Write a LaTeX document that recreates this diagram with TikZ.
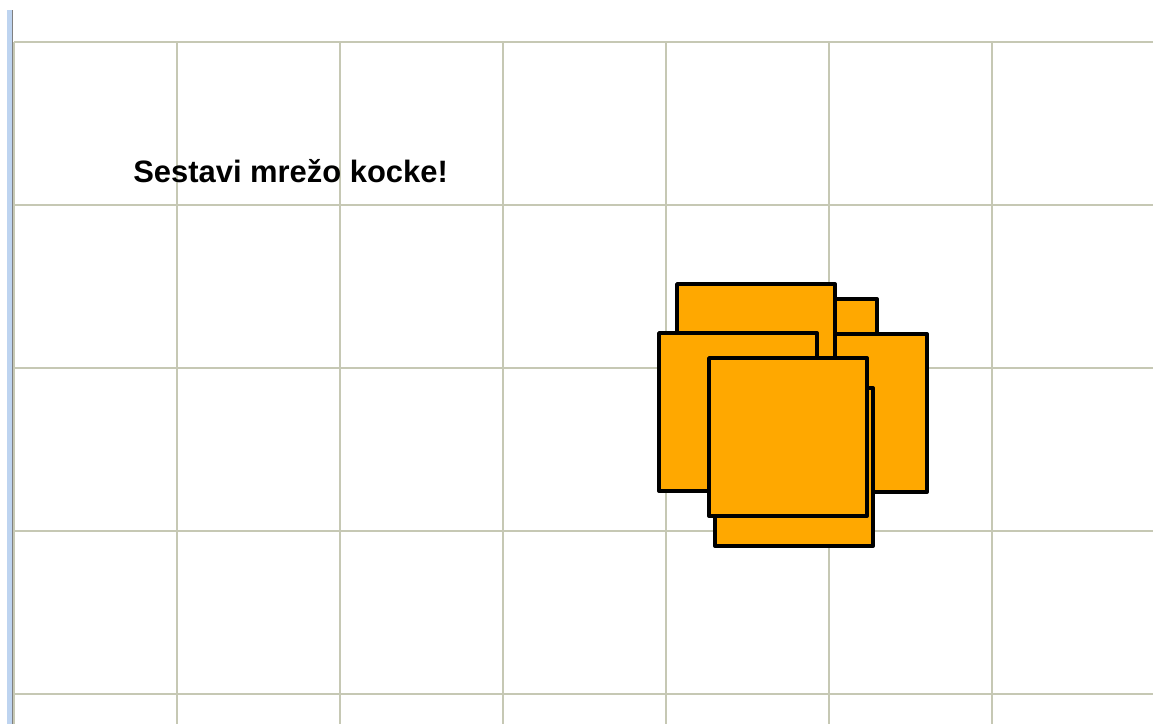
\documentclass[tikz,border=0pt]{standalone}
\usepackage{fontspec}
\setmainfont{Liberation Sans}
\definecolor{gridcol}{RGB}{198,200,180}
\definecolor{barcol}{RGB}{190,212,240}
\definecolor{facecol}{RGB}{255,168,0}

\begin{document}
\begin{tikzpicture}[x=0.02cm, y=-0.02cm]
  \pgfmathsetmacro{\G}{163}
  \pgfmathsetmacro{\A}{158}
  \useasboundingbox (0,0) rectangle (1153,724);
  \fill[white] (0,0) rectangle (1153,724);
  % grid
  \foreach \i in {0,...,7}
    \draw[gridcol, line width=1.1pt] (14+\i*\G,42) -- (14+\i*\G,724);
  \foreach \j in {0,...,4}
    \draw[gridcol, line width=1.1pt] (14,42+\j*\G) -- (1153,42+\j*\G);
  % window edge
  \fill[barcol] (7,10) rectangle (12,724);
  \draw[gray, line width=0.9pt] (12.5,10) -- (12.5,724);
  \node[anchor=base west, inner sep=0pt, font=\bfseries\fontsize{17.6}{20}\selectfont]
    (naslov) at (133,182) {Sestavi mrežo kocke!};
  % squares, back to front
  \foreach \x/\y in {719/299, 769/334, 677/284, 659/333, 715/388, 709/358}
    \filldraw[fill=facecol, draw=black, line width=2.2pt, line join=round]
      (\x,\y) rectangle ++(\A,\A);
\end{tikzpicture}
\end{document}
